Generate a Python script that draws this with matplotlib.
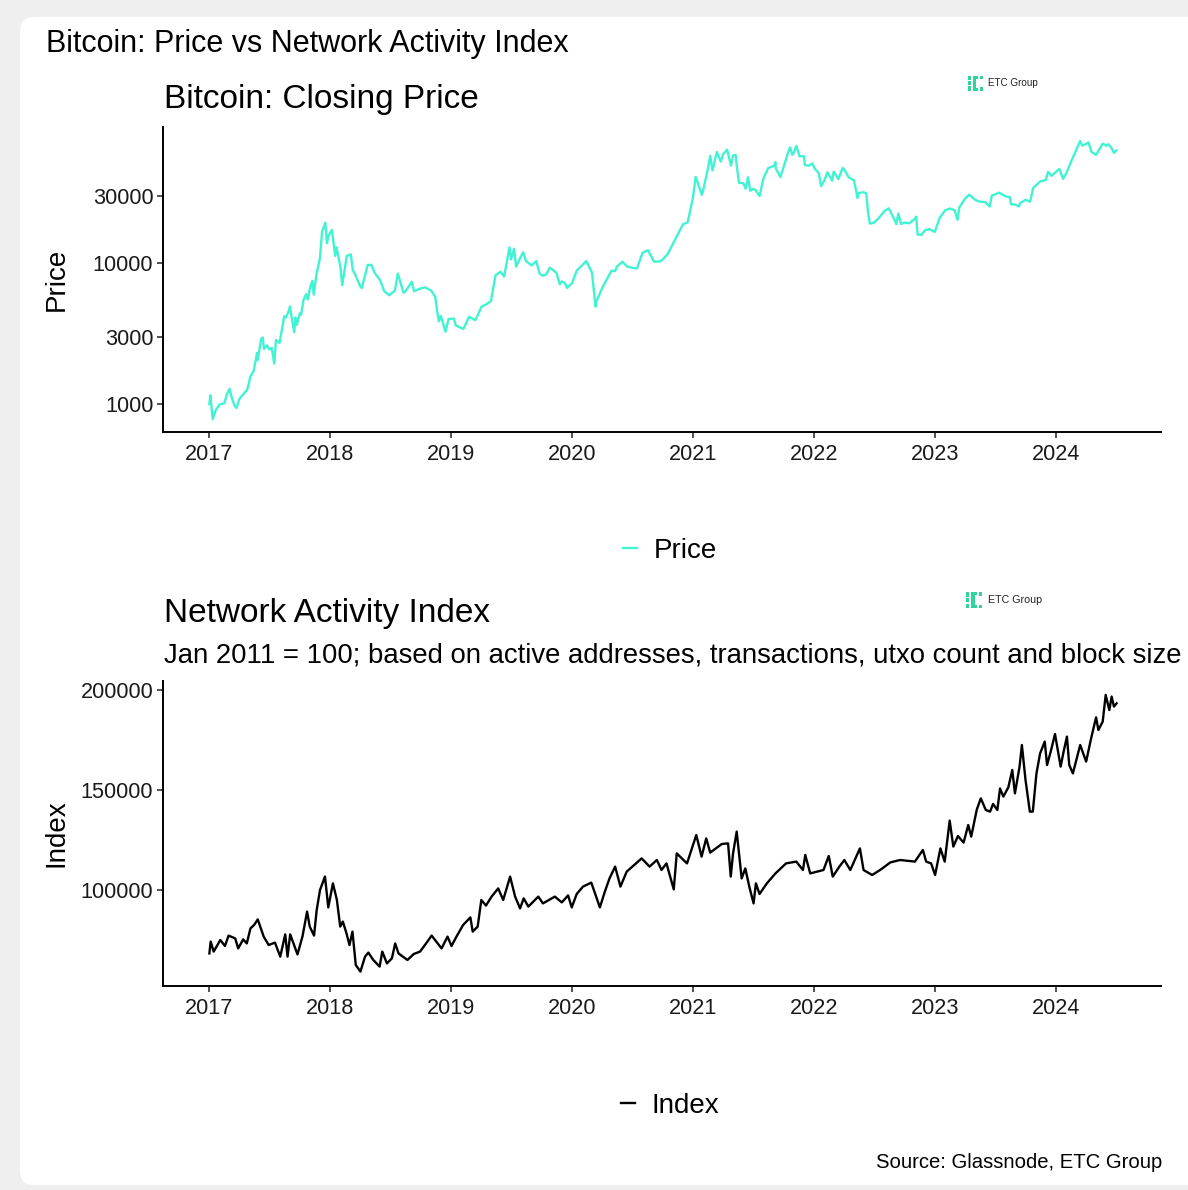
import matplotlib
matplotlib.use("Agg")
import matplotlib.pyplot as plt
import matplotlib.dates as mdates
import matplotlib.ticker as mticker
from matplotlib.patches import FancyBboxPatch, Rectangle
from matplotlib.transforms import IdentityTransform
import pandas as pd

plt.rcParams["font.family"] = ["Liberation Sans", "DejaVu Sans"]

# ---- Bitcoin closing price (USD) ----
price_dates = [
    # 2017
    "2017-01-01", "2017-01-04", "2017-01-11", "2017-01-20", "2017-02-01", "2017-02-15",
    "2017-02-23", "2017-03-03", "2017-03-10", "2017-03-18", "2017-03-24", "2017-04-01",
    "2017-04-15", "2017-04-25", "2017-05-01", "2017-05-04", "2017-05-15", "2017-05-25",
    "2017-05-27", "2017-06-06", "2017-06-11", "2017-06-15", "2017-06-24", "2017-07-01",
    "2017-07-08", "2017-07-16", "2017-07-21", "2017-08-01", "2017-08-15", "2017-08-20",
    "2017-08-31", "2017-09-01", "2017-09-14", "2017-09-18", "2017-09-22", "2017-10-01",
    "2017-10-05", "2017-10-12", "2017-10-20", "2017-10-25", "2017-11-01", "2017-11-08",
    "2017-11-12", "2017-11-20", "2017-12-01", "2017-12-07", "2017-12-17", "2017-12-22",
    "2017-12-27",
    # 2018
    "2018-01-06", "2018-01-16", "2018-01-20", "2018-02-01", "2018-02-06", "2018-02-20",
    "2018-03-04", "2018-03-10", "2018-03-18", "2018-04-01", "2018-04-06", "2018-04-24",
    "2018-05-05", "2018-05-15", "2018-06-01", "2018-06-13", "2018-06-28", "2018-07-15",
    "2018-07-24", "2018-08-10", "2018-08-14", "2018-09-04", "2018-09-11", "2018-10-01",
    "2018-10-15", "2018-11-01", "2018-11-14", "2018-11-20", "2018-11-25", "2018-12-01",
    "2018-12-15", "2018-12-24",
    # 2019
    "2019-01-09", "2019-01-15", "2019-02-07", "2019-02-24", "2019-03-15", "2019-04-03",
    "2019-04-15", "2019-05-01", "2019-05-15", "2019-05-30", "2019-06-10", "2019-06-26",
    "2019-07-01", "2019-07-10", "2019-07-16", "2019-08-06", "2019-08-15", "2019-09-01",
    "2019-09-15", "2019-09-25", "2019-10-05", "2019-10-15", "2019-10-26", "2019-11-15",
    "2019-11-25", "2019-12-01", "2019-12-10", "2019-12-17",
    # 2020
    "2020-01-01", "2020-01-15", "2020-02-13", "2020-03-01", "2020-03-12", "2020-03-15",
    "2020-04-01", "2020-04-29", "2020-05-10", "2020-05-15", "2020-06-01", "2020-06-15",
    "2020-07-01", "2020-07-15", "2020-07-27", "2020-08-01", "2020-08-17", "2020-09-05",
    "2020-09-23", "2020-10-01", "2020-10-15", "2020-11-01", "2020-11-15", "2020-12-01",
    "2020-12-15", "2020-12-31",
    # 2021
    "2021-01-08", "2021-01-22", "2021-01-27", "2021-02-01", "2021-02-15", "2021-02-21",
    "2021-02-28", "2021-03-13", "2021-03-25", "2021-04-01", "2021-04-13", "2021-04-25",
    "2021-05-01", "2021-05-09", "2021-05-12", "2021-05-19", "2021-06-01", "2021-06-08",
    "2021-06-15", "2021-06-22", "2021-07-01", "2021-07-08", "2021-07-20", "2021-08-01",
    "2021-08-15", "2021-09-01", "2021-09-06", "2021-09-07", "2021-09-21", "2021-10-01",
    "2021-10-15", "2021-10-20", "2021-10-27", "2021-11-01", "2021-11-08", "2021-11-18",
    "2021-12-01", "2021-12-04", "2021-12-15", "2021-12-27",
    # 2022
    "2022-01-01", "2022-01-15", "2022-01-22", "2022-02-01", "2022-02-10", "2022-02-24",
    "2022-03-01", "2022-03-15", "2022-03-28", "2022-04-01", "2022-04-15", "2022-05-01",
    "2022-05-12", "2022-05-15", "2022-05-30", "2022-06-07", "2022-06-13", "2022-06-18",
    "2022-07-01", "2022-07-15", "2022-08-01", "2022-08-14", "2022-09-01", "2022-09-06",
    "2022-09-12", "2022-09-20", "2022-10-01", "2022-10-15", "2022-11-01", "2022-11-05",
    "2022-11-09", "2022-11-21", "2022-12-01", "2022-12-15", "2022-12-31",
    # 2023
    "2023-01-15", "2023-02-01", "2023-02-15", "2023-03-01", "2023-03-10", "2023-03-15",
    "2023-04-01", "2023-04-14", "2023-05-01", "2023-05-15", "2023-06-01", "2023-06-15",
    "2023-06-21", "2023-07-01", "2023-07-13", "2023-08-01", "2023-08-15", "2023-08-18",
    "2023-09-01", "2023-09-11", "2023-09-15", "2023-10-01", "2023-10-15", "2023-10-24",
    "2023-11-01", "2023-11-15", "2023-12-01", "2023-12-08", "2023-12-18",
    # 2024
    "2024-01-01", "2024-01-11", "2024-01-22", "2024-02-01", "2024-02-15", "2024-03-01",
    "2024-03-14", "2024-03-20", "2024-04-01", "2024-04-08", "2024-04-15", "2024-04-17",
    "2024-05-01", "2024-05-15", "2024-05-21", "2024-06-01", "2024-06-07", "2024-06-15",
    "2024-06-24", "2024-07-01",
]
price_values = [
    # 2017
    998, 1150, 780, 900, 990, 1010,
    1170, 1280, 1100, 970, 935, 1080,
    1180, 1260, 1420, 1550, 1720, 2300,
    2050, 2870, 2960, 2450, 2600, 2430,
    2500, 1930, 2840, 2710, 4180, 4100,
    4700, 4900, 3230, 4100, 3640, 4390,
    4300, 5430, 6000, 5500, 6700, 7450,
    5950, 8200, 10900, 16500, 19300, 13800,
    15700,
    # 2018
    17100, 11200, 12900, 9200, 6950, 11200,
    11500, 8900, 8200, 6850, 6630, 9650,
    9700, 8500, 7500, 6300, 5900, 6350,
    8400, 6150, 6200, 7350, 6300, 6600,
    6700, 6380, 5750, 4500, 3850, 4200,
    3250, 4000,
    # 2019
    4030, 3600, 3400, 4150, 3920, 4900,
    5050, 5350, 8200, 8650, 8000, 12900,
    10600, 12600, 9400, 11900, 10300, 9600,
    10300, 8400, 8100, 8300, 9250, 8500,
    7050, 7400, 7200, 6640,
    # 2020
    7200, 8800, 10300, 8550, 4900, 5360,
    6640, 8800, 8750, 9380, 10200, 9430,
    9230, 9130, 11000, 11800, 12300, 10200,
    10250, 10600, 11500, 13750, 15950, 18800,
    19400, 29000,
    # 2021
    40700, 32900, 30400, 33500, 47900, 57500,
    45200, 61200, 52300, 59000, 63500, 49000,
    57800, 58200, 49100, 37000, 36700, 33600,
    40500, 32500, 33500, 32800, 29800, 39900,
    47000, 48800, 51800, 46800, 40600, 48100,
    61500, 65900, 58400, 61000, 67500, 56900,
    57200, 49400, 48900, 50700,
    # 2022
    47300, 43100, 35000, 38700, 43900, 38300,
    44400, 39300, 47100, 46300, 40500, 38500,
    28900, 31300, 31700, 31100, 22400, 19000,
    19300, 20800, 23300, 24400, 20100, 18800,
    22400, 18900, 19300, 19100, 20500, 21300,
    15900, 15800, 17000, 17400, 16550,
    # 2023
    20900, 23700, 24300, 23600, 20200, 24700,
    28500, 30500, 28100, 27200, 27000, 25100,
    30000, 30600, 31500, 29700, 29200, 26100,
    25900, 25100, 26600, 28000, 27200, 33900,
    35400, 37900, 38700, 44200, 41400,
    # 2024
    44200, 46400, 39500, 43100, 51900, 62400,
    73100, 67900, 69700, 71600, 63400, 61300,
    58300, 66200, 70100, 67800, 69400, 66200,
    60300, 62800,
]

# ---- Network Activity Index (Jan 2011 = 100) ----
index_dates = [
    "2017-01-01", "2017-01-05", "2017-01-14", "2017-02-03", "2017-02-17", "2017-02-28",
    "2017-03-20", "2017-03-29", "2017-04-13", "2017-04-24", "2017-05-05", "2017-05-16",
    "2017-05-27", "2017-06-14", "2017-06-29", "2017-07-18", "2017-08-03", "2017-08-18",
    "2017-08-25", "2017-09-02", "2017-09-24", "2017-10-09", "2017-10-23", "2017-10-31",
    "2017-11-13", "2017-11-21", "2017-12-01", "2017-12-16", "2017-12-26", "2018-01-09",
    "2018-01-21", "2018-01-31", "2018-02-08", "2018-02-19", "2018-02-28", "2018-03-09",
    "2018-03-19", "2018-04-02", "2018-04-16", "2018-04-26", "2018-05-11", "2018-05-30",
    "2018-06-07", "2018-06-21", "2018-07-06", "2018-07-16", "2018-07-26", "2018-08-22",
    "2018-09-10", "2018-09-29", "2018-10-16", "2018-11-03", "2018-12-03", "2018-12-21",
    "2019-01-02", "2019-01-17", "2019-02-06", "2019-02-28", "2019-03-07", "2019-03-22",
    "2019-04-02", "2019-04-16", "2019-05-03", "2019-05-23", "2019-06-07", "2019-06-28",
    "2019-07-13", "2019-07-28", "2019-08-08", "2019-08-22", "2019-09-21", "2019-10-05",
    "2019-11-10", "2019-12-01", "2019-12-20", "2019-12-31", "2020-01-15", "2020-02-03",
    "2020-02-28", "2020-03-25", "2020-04-09", "2020-04-23", "2020-05-10", "2020-05-26",
    "2020-06-14", "2020-07-29", "2020-08-22", "2020-09-13", "2020-09-27", "2020-10-12",
    "2020-11-03", "2020-11-12", "2020-12-13", "2021-01-10", "2021-01-26", "2021-02-09",
    "2021-02-21", "2021-03-28", "2021-04-16", "2021-04-24", "2021-05-01", "2021-05-12",
    "2021-05-27", "2021-06-07", "2021-06-19", "2021-07-02", "2021-07-09", "2021-07-20",
    "2021-08-11", "2021-09-06", "2021-10-08", "2021-11-08", "2021-11-28", "2021-12-05",
    "2021-12-20", "2022-01-29", "2022-02-14", "2022-02-26", "2022-03-18", "2022-04-02",
    "2022-04-20", "2022-05-19", "2022-05-30", "2022-06-25", "2022-07-19", "2022-08-19",
    "2022-09-17", "2022-11-01", "2022-11-25", "2022-12-05", "2022-12-20", "2023-01-01",
    "2023-01-17", "2023-01-30", "2023-02-14", "2023-02-25", "2023-03-11", "2023-03-28",
    "2023-04-11", "2023-04-20", "2023-05-07", "2023-05-19", "2023-06-03", "2023-06-16",
    "2023-06-25", "2023-07-08", "2023-07-16", "2023-07-26", "2023-08-10", "2023-08-22",
    "2023-08-30", "2023-09-13", "2023-09-20", "2023-10-01", "2023-10-14", "2023-10-23",
    "2023-11-03", "2023-11-14", "2023-11-28", "2023-12-05", "2023-12-16", "2023-12-29",
    "2024-01-15", "2024-01-24", "2024-02-03", "2024-02-10", "2024-02-21", "2024-03-14",
    "2024-04-01", "2024-04-16", "2024-05-01", "2024-05-08", "2024-05-21", "2024-05-30",
    "2024-06-10", "2024-06-17", "2024-06-24", "2024-07-02",
]
index_values = [
    68300, 74200, 69200, 75000, 72000, 77200,
    75800, 70800, 75300, 73300, 80800, 82500,
    85300, 76700, 72500, 73700, 66700, 77800,
    66700, 77800, 67800, 76700, 89200, 81700,
    77200, 90000, 100000, 106700, 91300, 103300,
    95000, 81700, 84200, 78300, 72500, 79200,
    62500, 59200, 66700, 68700, 65000, 61700,
    69200, 63300, 65800, 73300, 68300, 65000,
    68000, 69200, 73000, 77200, 70800, 76700,
    72000, 76700, 82500, 86300, 79200, 81700,
    95000, 92200, 96700, 100800, 95000, 106700,
    96700, 90800, 95800, 91700, 96700, 93300,
    96700, 93800, 97300, 91300, 98000, 101700,
    103700, 91300, 99200, 105800, 111700, 101700,
    109200, 115800, 111700, 115000, 110000, 113300,
    100300, 118300, 113300, 127500, 116700, 125800,
    118700, 123000, 123300, 106700, 118300, 129200,
    105800, 110800, 101700, 93300, 103300, 98000,
    103300, 108300, 113300, 114200, 110000, 117500,
    108300, 110000, 117000, 106700, 111700, 115000,
    110000, 120800, 110000, 107500, 110000, 113800,
    115000, 114200, 120000, 114200, 113300, 107500,
    120800, 114200, 134700, 121700, 127000, 123700,
    132500, 126700, 140300, 145800, 140000, 139200,
    143000, 140000, 150800, 146700, 151300, 160000,
    148300, 161700, 172500, 155000, 139200, 139200,
    158300, 168300, 174200, 162500, 169200, 178000,
    161700, 169200, 176700, 162500, 158300, 172500,
    164200, 175800, 186300, 180000, 184200, 197500,
    190000, 196700, 191700, 193300,
]

price_t = pd.to_datetime(price_dates)
index_t = pd.to_datetime(index_dates)

W, H = 1188, 1190
fig = plt.figure(figsize=(W / 100, H / 100), dpi=100, facecolor="#efefef")

# white rounded panel
panel = FancyBboxPatch((20, 5), 1200, 1168,
                       boxstyle="round,pad=0,rounding_size=14",
                       transform=IdentityTransform(), facecolor="white",
                       edgecolor="none", zorder=0)
fig.add_artist(panel)


def fx(px):
    return px / W


def fy(py):
    return 1 - py / H


def logo(x0, y0, s):
    """ETC Group logo, top-left corner at pixel (x0, y0), scale s."""
    green = "#2fd49c"
    blocks = [
        (0, 0, 3, 4.3), (0, 5.5, 3, 4.0), (0, 10.7, 3, 4.3),
        (4.8, 0, 3.2, 15),
        (8, 0, 2.2, 3), (8, 12, 2.2, 3),
        (12, 0, 3, 3.3), (12, 11.7, 3, 3.3),
    ]
    for bx, by, bw, bh in blocks:
        fig.add_artist(Rectangle((fx(x0 + bx * s), fy(y0 + (by + bh) * s)),
                                 bw * s / W, bh * s / H,
                                 transform=fig.transFigure, facecolor=green,
                                 edgecolor="none"))
    fig.text(fx(x0 + 20.5 * s), fy(y0 + 7.5 * s), "ETC Group",
             fontsize=7.1 * s, color="#222222", ha="left", va="center")


def style_axes(ax):
    for side in ("top", "right"):
        ax.spines[side].set_visible(False)
    for side in ("left", "bottom"):
        ax.spines[side].set_linewidth(1.4)
        ax.spines[side].set_color("black")
    ax.tick_params(axis="both", which="major", direction="out", length=4,
                   width=1.2, color="#333333", labelsize=15.6,
                   labelcolor="#1a1a1a")
    ax.tick_params(axis="x", pad=4.5)
    ax.tick_params(axis="y", pad=3)
    ax.tick_params(which="minor", length=0)
    ax.xaxis.set_major_locator(mdates.YearLocator())
    ax.xaxis.set_major_formatter(mdates.DateFormatter("%Y"))
    ax.set_xlim(pd.Timestamp("2016-08-14"), pd.Timestamp("2024-11-13"))
    ax.set_facecolor("none")
    ax.grid(False)


# ---- top panel: price (log scale) ----
ax1 = fig.add_axes([fx(163), fy(432), fx(1161) - fx(163), (432 - 127) / H])
ax1.plot(price_t, price_values, color="#40F3D3", lw=1.7, label="Price")
ax1.set_yscale("log")
ax1.set_ylim(632, 92000)
ax1.yaxis.set_major_locator(mticker.FixedLocator([1000, 3000, 10000, 30000]))
ax1.yaxis.set_major_formatter(mticker.FuncFormatter(lambda v, p: f"{v:.0f}"))
ax1.yaxis.set_minor_locator(mticker.NullLocator())
style_axes(ax1)

# ---- bottom panel: network activity index ----
ax2 = fig.add_axes([fx(163), fy(986), fx(1161) - fx(163), (986 - 681) / H])
ax2.plot(index_t, index_values, color="black", lw=1.7, label="Index")
ax2.set_ylim(52000, 204500)
ax2.yaxis.set_major_locator(mticker.FixedLocator([100000, 150000, 200000]))
ax2.yaxis.set_major_formatter(mticker.FuncFormatter(lambda v, p: f"{v:.0f}"))
style_axes(ax2)

# titles and labels
fig.text(fx(46), fy(52), "Bitcoin: Price vs Network Activity Index",
         fontsize=22, ha="left", va="baseline", color="black")
fig.text(fx(164), fy(108), "Bitcoin: Closing Price",
         fontsize=24, ha="left", va="baseline", color="black")
fig.text(fx(164), fy(622), "Network Activity Index",
         fontsize=24, ha="left", va="baseline", color="black")
fig.text(fx(164), fy(662),
         "Jan 2011 = 100; based on active addresses, transactions, utxo count and block size",
         fontsize=19.8, ha="left", va="baseline", color="black")
fig.text(fx(57), fy(279), "Price", fontsize=20, rotation=90,
         ha="center", va="center", color="black")
fig.text(fx(57), fy(833), "Index", fontsize=20, rotation=90,
         ha="center", va="center", color="black")
fig.text(fx(1162), fy(1168), "Source: Glassnode, ETC Group",
         fontsize=14.6, ha="right", va="baseline", color="black")

# legends below each panel
for ax, yc in ((ax1, 551), (ax2, 1106)):
    ax.legend(loc="center", bbox_to_anchor=(fx(670), fy(yc)),
              bbox_transform=fig.transFigure, frameon=False, fontsize=20,
              handlelength=0.5, handletextpad=0.6, borderpad=0)

logo(968, 75.5, 1.0)
logo(966, 592, 1.08)

fig.savefig("out.png", dpi=100, facecolor=fig.get_facecolor())
